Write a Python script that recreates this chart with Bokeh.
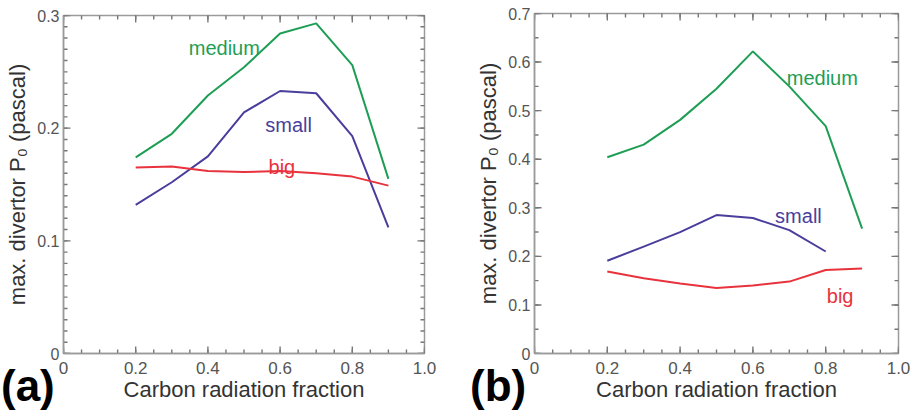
import math
from bokeh.plotting import figure
from bokeh.layouts import row, column
from bokeh.models import FixedTicker, Range1d, Div
from bokeh.core.properties import value
from bokeh.embed import file_html
from bokeh.resources import INLINE

# ---- data ----
frac_a = [0.2, 0.3, 0.4, 0.5, 0.6, 0.7, 0.8, 0.9]
medium_a = [0.174, 0.195, 0.229, 0.254, 0.284, 0.293, 0.256, 0.155]
small_a = [0.132, 0.152, 0.175, 0.214, 0.233, 0.231, 0.193, 0.112]
big_a = [0.165, 0.166, 0.162, 0.161, 0.162, 0.160, 0.157, 0.149]

frac_b = [0.2, 0.3, 0.4, 0.5, 0.6, 0.7, 0.8, 0.9]
medium_b = [0.404, 0.430, 0.481, 0.545, 0.622, 0.550, 0.468, 0.257]
frac_b_small = [0.2, 0.3, 0.4, 0.5, 0.6, 0.7, 0.8]
small_b = [0.191, 0.220, 0.250, 0.285, 0.279, 0.254, 0.210]
big_b = [0.169, 0.155, 0.144, 0.135, 0.140, 0.148, 0.172, 0.175]

x_ticks = [0, 0.2, 0.4, 0.6, 0.8, 1.0]
x_tick_labels = ["0", "0.2", "0.4", "0.6", "0.8", "1.0"]
y_ticks_a = [0, 0.1, 0.2, 0.3]
y_tick_labels_a = ["0", "0.1", "0.2", "0.3"]
y_ticks_b = [0, 0.1, 0.2, 0.3, 0.4, 0.5, 0.6, 0.7]
y_tick_labels_b = ["0", "0.1", "0.2", "0.3", "0.4", "0.5", "0.6", "0.7"]
x_minor_step = 0.05
y_minor_step_a = 0.01
y_minor_step_b = 0.05

x_label = "Carbon radiation fraction"
y_label = "max. divertor P\u2080 (pascal)"
panel_tags = ["(a)", "(b)"]

GREEN = "#1e9e55"
BLUE = "#4a3e9c"
RED = "#e8323c"
FONT = "Liberation Sans"
AXC = "#9a9a9a"
TKC = "#777777"


def steps(lo, hi, step):
    n = int(round((hi - lo) / step))
    return [round(lo + i * step, 4) for i in range(n + 1)]


def draw_ticks(p, ticks, fixed, side, length):
    # inward tick marks: dash markers centred on the frame edge,
    # the outer half is clipped away by the frame
    if side in ("bottom", "top"):
        xs, ys, ang = ticks, [fixed] * len(ticks), math.pi / 2
    else:
        xs, ys, ang = [fixed] * len(ticks), ticks, 0.0
    p.scatter(x=xs, y=ys, marker="dash", size=2 * length, angle=ang,
              line_color=TKC, line_width=1.4, fill_color=None)


def make_panel(ymax, yticks, ylabels, yminor_step, border, fw, fh):
    left, right, top, bottom = border
    p = figure(frame_width=fw, frame_height=fh, output_backend="svg",
               toolbar_location=None, x_range=Range1d(0, 1.0),
               y_range=Range1d(0, ymax),
               min_border_left=left, min_border_right=right,
               min_border_top=top, min_border_bottom=bottom,
               x_axis_label=x_label, y_axis_label=y_label)
    p.grid.visible = False
    p.outline_line_color = AXC
    p.outline_line_width = 1.5
    p.background_fill_color = "white"
    p.border_fill_color = "white"

    xa = p.xaxis[0]
    xa.ticker = FixedTicker(ticks=x_ticks)
    xa.major_label_overrides = {t: l for t, l in zip(x_ticks, x_tick_labels)}
    ya = p.yaxis[0]
    ya.ticker = FixedTicker(ticks=yticks)
    ya.major_label_overrides = {t: l for t, l in zip(yticks, ylabels)}

    for ax in (xa, ya):
        ax.axis_line_color = AXC
        ax.axis_line_width = 1.5
        ax.major_tick_line_color = None
        ax.minor_tick_line_color = None
        ax.major_tick_in = 0
        ax.major_tick_out = 0
        ax.minor_tick_in = 0
        ax.minor_tick_out = 0
        ax.major_label_text_font = FONT
        ax.major_label_text_font_size = "16px"
        ax.major_label_text_color = "#555555"
        ax.axis_label_text_font = FONT
        ax.axis_label_text_font_size = "22px"
        ax.axis_label_text_font_style = "normal"
        ax.axis_label_text_color = "#333333"
    xa.major_label_standoff = 8
    xa.axis_label_standoff = 0
    xa.major_label_text_font_size = "17px"
    ya.major_label_standoff = 4
    ya.axis_label_standoff = 4

    xminor = steps(0, 1.0, x_minor_step)
    yminor = steps(0, ymax, yminor_step)
    for side, fixed in (("bottom", 0), ("top", ymax)):
        draw_ticks(p, xminor, fixed, side, 4)
        draw_ticks(p, x_ticks, fixed, side, 7)
    for side, fixed in (("left", 0), ("right", 1.0)):
        draw_ticks(p, yminor, fixed, side, 4)
        draw_ticks(p, yticks, fixed, side, 7)
    return p


def tag_div(tag, left):
    return Div(text=('<div style="font-family: \'Liberation Sans\', Arial, sans-serif; '
                     'font-weight: bold; font-size: 44px; line-height: 44px; '
                     'color: #000; white-space: nowrap;">%s</div>' % tag),
               margin=(-53, 0, 0, left), width=70, height=46)


# panel (a)
pa = make_panel(0.3, y_ticks_a, y_tick_labels_a, y_minor_step_a,
                (63, 32, 15, 64), 361, 338)
pa.line(frac_a, medium_a, line_color=GREEN, line_width=2)
pa.line(frac_a, small_a, line_color=BLUE, line_width=2)
pa.line(frac_a, big_a, line_color=RED, line_width=2)
pa.text(x=[0.347], y=[0.271], text=["medium"], text_color=GREEN,
        text_font=value(FONT), text_font_size="20px", text_baseline="alphabetic")
pa.text(x=[0.559], y=[0.203], text=["small"], text_color=BLUE,
        text_font=value(FONT), text_font_size="20px", text_baseline="alphabetic")
pa.text(x=[0.568], y=[0.1655], text=["big"], text_color=RED,
        text_font=value(FONT), text_font_size="20px", text_baseline="alphabetic")

# panel (b)
pb = make_panel(0.7, y_ticks_b, y_tick_labels_b, y_minor_step_b,
                (78, 14, 13, 64), 364, 340)
pb.line(frac_b, medium_b, line_color=GREEN, line_width=2)
pb.line(frac_b_small, small_b, line_color=BLUE, line_width=2)
pb.line(frac_b, big_b, line_color=RED, line_width=2)
pb.text(x=[0.693], y=[0.568], text=["medium"], text_color=GREEN,
        text_font=value(FONT), text_font_size="20px", text_baseline="alphabetic")
pb.text(x=[0.661], y=[0.284], text=["small"], text_color=BLUE,
        text_font=value(FONT), text_font_size="20px", text_baseline="alphabetic")
pb.text(x=[0.803], y=[0.119], text=["big"], text_color=RED,
        text_font=value(FONT), text_font_size="20px", text_baseline="alphabetic")

layout = row(column(pa, tag_div(panel_tags[0], 1), spacing=0),
             column(pb, tag_div(panel_tags[1], 14), spacing=0),
             spacing=0)
open("out.html", "w").write(file_html(layout, INLINE))
